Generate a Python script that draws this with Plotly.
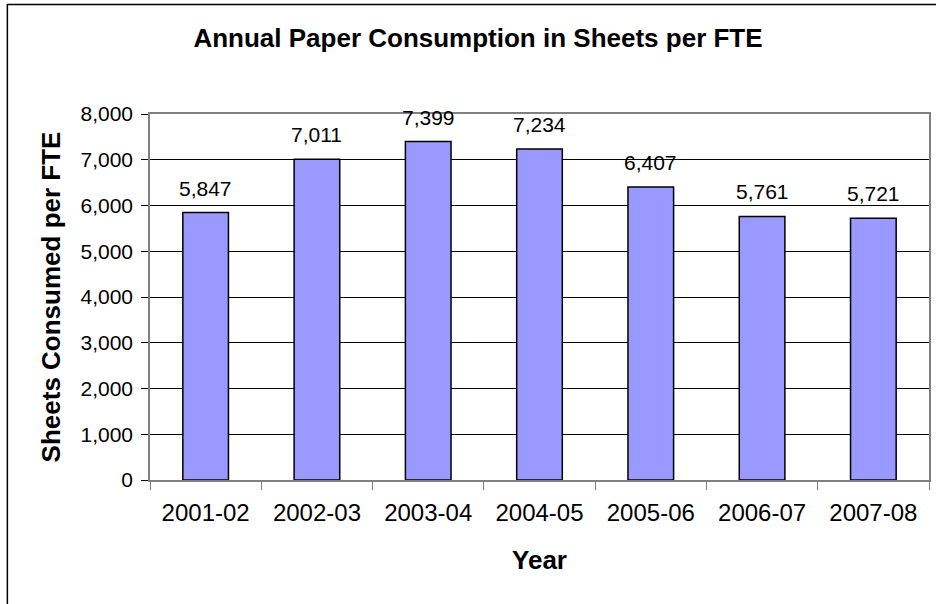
import plotly.graph_objects as go

# Annual paper use per full-time equivalent
years = ["2001-02", "2002-03", "2003-04", "2004-05", "2005-06", "2006-07", "2007-08"]
sheets_per_fte = [5847, 7011, 7399, 7234, 6407, 5761, 5721]
y_ticks = [0, 1000, 2000, 3000, 4000, 5000, 6000, 7000, 8000]

FONT = "Arial, Liberation Sans, sans-serif"
W, H = 936, 604
L, R, T, B = 150, 5, 114, 124
plot_w = W - L - R
plot_h = H - T - B

fig = go.Figure()
fig.add_trace(go.Bar(
    x=years,
    y=sheets_per_fte,
    width=0.41,
    marker=dict(color="#9999FF", line=dict(color="#000000", width=1.5)),
    hoverinfo="x+y",
))

# value labels above each bar
for yr, v in zip(years, sheets_per_fte):
    fig.add_annotation(
        x=yr, y=v, text=f"{v:,}", showarrow=False,
        yanchor="bottom", yshift=11,
        font=dict(family=FONT, size=21, color="#000000"),
    )

# outer chart frame
fig.add_shape(
    type="rect", xref="paper", yref="paper",
    x0=(7 - L) / plot_w, x1=(W + 10 - L) / plot_w,
    y0=-(H + 10 - T - plot_h) / plot_h, y1=1 + (T - 4.5) / plot_h,
    line=dict(color="#000000", width=1.5), layer="below",
)

fig.update_layout(
    width=W, height=H,
    margin=dict(l=L, r=R, t=T, b=B),
    paper_bgcolor="#FFFFFF",
    plot_bgcolor="#FFFFFF",
    showlegend=False,
    font=dict(family=FONT, color="#000000"),
    title=dict(
        text="<b>Annual Paper Consumption in Sheets per FTE</b>",
        font=dict(family=FONT, size=26, color="#000000"),
        xref="container", x=478 / W, xanchor="center",
        yref="container", y=1 - 38 / H, yanchor="middle",
    ),
    bargap=0.59,
)

fig.update_xaxes(
    type="category",
    tickson="boundaries",
    ticks="outside", ticklen=8, tickcolor="#808080", tickwidth=1,
    ticklabelstandoff=10,
    showline=True, linecolor="#808080", linewidth=1.5, mirror=True,
    showgrid=False,
    tickfont=dict(family=FONT, size=24, color="#000000"),
    title=dict(text="<b>Year</b>", font=dict(family=FONT, size=26, color="#000000"), standoff=26),
)

fig.update_yaxes(
    range=[0, 8000],
    tickvals=y_ticks,
    tickformat=",d",
    ticks="outside", ticklen=7, tickcolor="#000000", tickwidth=1,
    ticklabelstandoff=4,
    showline=True, linecolor="#808080", linewidth=1.5, mirror=True,
    showgrid=True, gridcolor="#000000", gridwidth=1,
    zeroline=False,
    tickfont=dict(family=FONT, size=21, color="#000000"),
    title=dict(text="<b>Sheets Consumed per FTE</b>", font=dict(family=FONT, size=26, color="#000000"), standoff=12),
)

fig.write_html("out.html")
